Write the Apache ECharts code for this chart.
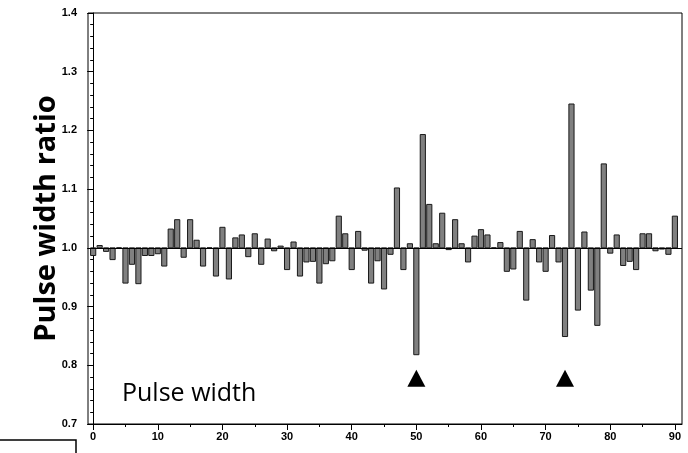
<!DOCTYPE html>
<html>
<head>
<meta charset="utf-8">
<script src="https://cdn.jsdelivr.net/npm/echarts@6/dist/echarts.min.js"></script>
<style>
html, body { margin: 0; padding: 0; background: #fff; }
#chart { width: 688px; height: 453px; }
</style>
</head>
<body>
<div id="chart"></div>
<script>
// bar positions 0..90
var positions = [];
for (var i = 0; i <= 90; i++) positions.push(i);

// pulse width ratio
var ratios = [
    0.987, 1.004, 0.994, 0.980, 1.000, 0.940, 0.972, 0.939, 0.987, 0.987,
    0.990, 0.969, 1.032, 1.048, 0.984, 1.048, 1.013, 0.969, 1.000, 0.952,
    1.035, 0.947, 1.017, 1.022, 0.985, 1.024, 0.972, 1.015, 0.995, 1.003,
    0.963, 1.010, 0.952, 0.976, 0.977, 0.940, 0.973, 0.978, 1.054, 1.024,
    0.963, 1.028, 0.996, 0.940, 0.978, 0.930, 0.989, 1.102, 0.963, 1.007,
    0.818, 1.193, 1.074, 1.007, 1.059, 0.997, 1.048, 1.007, 0.976, 1.020,
    1.031, 1.022, 1.000, 1.009, 0.960, 0.964, 1.028, 0.911, 1.014, 0.976,
    0.960, 1.021, 0.976, 0.849, 1.245, 0.894, 1.027, 0.928, 0.868, 1.143,
    0.991, 1.022, 0.970, 0.977, 0.963, 1.024, 1.024, 0.995, 0.998, 0.989,
    1.054
];

// tick labels
var xLabels = [0, 10, 20, 30, 40, 50, 60, 70, 80, 90];
var xMinorTicks = [5, 15, 25, 35, 45, 55, 65, 75, 85];

// arrow markers under the two outliers
var markerPos = [50, 73];
var markerY = 0.778;

var xMin = -0.8, xMax = 91.1;

var myChart = echarts.init(document.getElementById('chart'));

var barData = positions.map(function (p, i) { return [p, ratios[i]]; });
var markerData = markerPos.map(function (p) { return [p, markerY]; });

var option = {
    animation: false,
    grid: {
        left: 88,
        right: 6,
        top: 13,
        bottom: 29,
        show: true,
        borderColor: '#000',
        borderWidth: 1
    },
    xAxis: [{
        type: 'value',
        min: xMin,
        max: xMax,
        position: 'bottom',
        splitLine: { show: false },
        axisLine: { lineStyle: { color: '#000', width: 1 } },
        axisTick: { customValues: xLabels, length: 6, lineStyle: { color: '#000' } },
        axisLabel: {
            customValues: xLabels,
            color: '#000',
            fontSize: 11,
            fontWeight: 'bold',
            fontFamily: 'Liberation Sans',
            margin: 7
        }
    }, {
        // minor ticks on the bottom edge
        type: 'value',
        min: xMin,
        max: xMax,
        position: 'top',
        offset: -411,
        splitLine: { show: false },
        axisLine: { show: false },
        axisTick: { inside: true, customValues: xMinorTicks, length: 3, lineStyle: { color: '#000' } },
        axisLabel: { show: false }
    }],
    yAxis: {
        type: 'value',
        min: 0.7,
        max: 1.4,
        interval: 0.1,
        name: 'Pulse width ratio',
        nameLocation: 'middle',
        nameGap: 27,
        nameMoveOverlap: false,
        nameTextStyle: {
            color: '#000',
            fontSize: 29,
            fontWeight: 'bold',
            fontFamily: 'Open Sans'
        },
        splitLine: { show: false },
        axisLine: { show: true, lineStyle: { color: '#000', width: 1 } },
        axisTick: { show: true, length: 6, lineStyle: { color: '#000' } },
        minorTick: { show: true, splitNumber: 5, length: 3, lineStyle: { color: '#000' } },
        axisLabel: {
            color: '#000',
            fontSize: 11,
            fontWeight: 'bold',
            fontFamily: 'Liberation Sans',
            margin: 11,
            formatter: function (v) { return v.toFixed(1); }
        }
    },
    series: [{
        type: 'custom',
        data: barData,
        renderItem: function (params, api) {
            var x = api.value(0);
            var v = api.value(1);
            var base = api.coord([x, 1]);
            var top = api.coord([x, v]);
            var w = api.size([1, 0])[0] * 0.8;
            return {
                type: 'rect',
                shape: {
                    x: base[0] - w / 2,
                    y: Math.min(base[1], top[1]),
                    width: w,
                    height: Math.abs(top[1] - base[1])
                },
                style: { fill: '#808080', stroke: '#1a1a1a', lineWidth: 1 }
            };
        },
        markLine: {
            silent: true,
            symbol: 'none',
            label: { show: false },
            lineStyle: { color: '#000', width: 1, type: 'solid' },
            data: [{ yAxis: 1 }]
        },
        z: 2
    }, {
        type: 'scatter',
        data: markerData,
        symbol: 'triangle',
        symbolSize: [18, 17],
        itemStyle: { color: '#000', opacity: 1 },
        z: 3
    }],
    graphic: [{
        type: 'text',
        left: 122,
        top: 381,
        style: {
            text: 'Pulse width',
            fill: '#000',
            font: '25px "Open Sans"'
        }
    }, {
        type: 'rect',
        shape: { x: -2, y: 440, width: 78, height: 20 },
        style: { fill: 'none', stroke: '#000', lineWidth: 1.5 }
    }]
};

option && myChart.setOption(option);
</script>
</body>
</html>
